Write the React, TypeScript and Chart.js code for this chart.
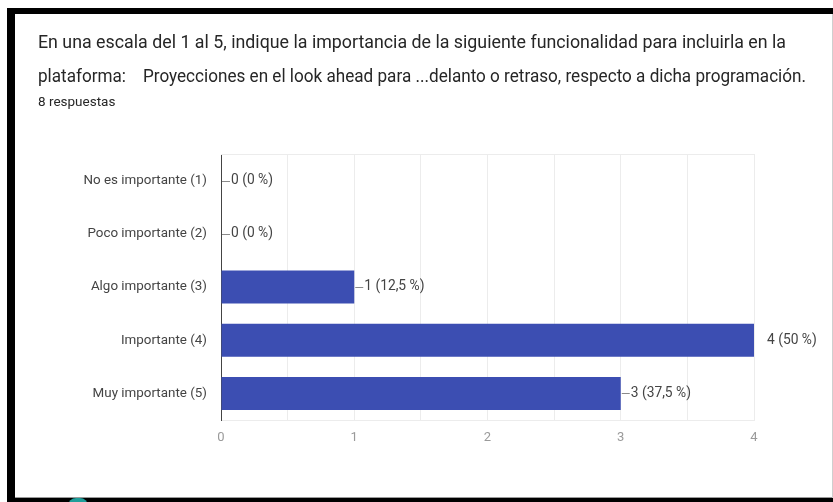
import React, { useEffect, useRef } from "react";
import { Chart, registerables } from "chart.js";

Chart.register(...registerables);

const categories = [
  "No es importante (1)",
  "Poco importante (2)",
  "Algo importante (3)",
  "Importante (4)",
  "Muy importante (5)",
];
const counts = [0, 0, 1, 4, 3];
const percentLabels = ["0 %", "0 %", "12,5 %", "50 %", "37,5 %"];
const xTickValues = [0, 1, 2, 3, 4];
const titleLines = [
  "En una escala del 1 al 5, indique la importancia de la siguiente funcionalidad para incluirla en la",
  "plataforma:    Proyecciones en el look ahead para ...delanto o retraso, respecto a dicha programación.",
];
const titleLineWidths = [748, 768];
const subtitle = "8 respuestas";

const FONT = "Roboto, 'Noto Sans', sans-serif";

function measure(text: string, font: string): number {
  const c = document.createElement("canvas").getContext("2d");
  if (!c) return 0;
  c.font = font;
  return c.measureText(text).width;
}

const annotationPlugin = {
  id: "barAnnotations",
  afterDatasetsDraw(chart: any) {
    const ctx = chart.ctx;
    const meta = chart.getDatasetMeta(0);
    const max = Math.max(...counts);
    ctx.save();
    ctx.font = `13.8px ${FONT}`;
    ctx.textBaseline = "middle";
    ctx.textAlign = "left";
    meta.data.forEach((el: any, i: number) => {
      const x = el.x;
      const y = el.y;
      const label = `${counts[i]} (${percentLabels[i]})`;
      ctx.fillStyle = "#444";
      if (counts[i] < max) {
        ctx.strokeStyle = "#8a8a8a";
        ctx.lineWidth = 1;
        ctx.beginPath();
        ctx.moveTo(x + 1, Math.round(y) + 0.5);
        ctx.lineTo(x + 9, Math.round(y) + 0.5);
        ctx.stroke();
        ctx.fillText(label, x + 10, y);
      } else {
        ctx.fillText(label, x + 13, y);
      }
    });
    ctx.restore();
  },
  beforeDatasetsDraw(chart: any) {
    const { ctx, chartArea } = chart;
    ctx.save();
    ctx.strokeStyle = "#ececec";
    ctx.lineWidth = 1;
    ctx.beginPath();
    ctx.moveTo(chartArea.left, chartArea.top + 0.5);
    ctx.lineTo(chartArea.right, chartArea.top + 0.5);
    ctx.stroke();
    ctx.restore();
  },
};

export default function App() {
  const canvasRef = useRef<HTMLCanvasElement | null>(null);

  useEffect(() => {
    if (!canvasRef.current) return;
    const chart = new Chart(canvasRef.current, {
      type: "bar",
      data: {
        labels: categories,
        datasets: [
          {
            data: counts,
            backgroundColor: "#3c4eb2",
            borderWidth: 0,
            barPercentage: 0.62,
            categoryPercentage: 1,
          },
        ],
      },
      options: {
        indexAxis: "y",
        animation: false,
        responsive: false,
        maintainAspectRatio: false,
        layout: { padding: { left: 0, top: 154, right: 79, bottom: 42 } },
        plugins: {
          legend: { display: false },
          tooltip: { enabled: false },
          title: { display: false },
        },
        scales: {
          x: {
            min: 0,
            max: 4,
            afterBuildTicks: (scale: any) => {
              const t: any[] = [];
              xTickValues.forEach((v, i) => {
                t.push({ value: v });
                if (i < xTickValues.length - 1) t.push({ value: v + 0.5 });
              });
              scale.ticks = t;
            },
            afterFit: (scale: any) => {
              scale.height = 40;
            },
            ticks: {
              autoSkip: false,
              maxRotation: 0,
              padding: 10,
              color: "#9a9a9a",
              font: { family: FONT, size: 13 },
              callback: (v: any) => (Number.isInteger(Number(v)) ? String(v) : ""),
            },
            grid: { color: "#ececec", drawTicks: false },
            border: { color: "#ececec" },
          },
          y: {
            afterFit: (scale: any) => {
              scale.width = 221;
            },
            ticks: {
              padding: 14,
              color: "#444",
              font: { family: FONT, size: 13.4 },
            },
            grid: { display: false, drawTicks: false },
            border: { color: "#444", width: 1 },
          },
        },
      },
      plugins: [annotationPlugin],
    } as any);
    return () => chart.destroy();
  }, []);

  const titleFont = `18px ${FONT}`;

  return (
    <div
      style={{
        position: "absolute",
        left: 0,
        top: 0,
        width: 833,
        height: 502,
        background: "#fff",
        overflow: "hidden",
      }}
    >
      <canvas
        ref={canvasRef}
        width={833}
        height={502}
        style={{ position: "absolute", left: 0, top: 0, width: 833, height: 502 }}
      />
      <div style={{ position: "absolute", left: 7, top: 8, width: 826, height: 6, background: "#000" }} />
      <div style={{ position: "absolute", left: 7, top: 8, width: 8, height: 494, background: "#000" }} />
      <div style={{ position: "absolute", left: 7, top: 498, width: 826, height: 4, background: "#000" }} />
      <div style={{ position: "absolute", left: 15, top: 497, width: 818, height: 1, background: "#9a9a9a" }} />
      <div style={{ position: "absolute", left: 832, top: 14, width: 1, height: 484, background: "#cfcfcf" }} />
      <div
        style={{
          position: "absolute",
          left: 68,
          top: 498,
          width: 20,
          height: 8,
          borderRadius: "10px 10px 0 0",
          background: "#1f9e9a",
        }}
      />
      <div
        style={{
          position: "absolute",
          left: 38,
          top: 25,
          fontFamily: FONT,
          fontSize: 18,
          lineHeight: "34px",
          color: "#262626",
          whiteSpace: "pre",
        }}
      >
        {titleLines.map((l, i) => {
          const w = measure(l, titleFont);
          const k = w > 0 ? titleLineWidths[i] / w : 1;
          return (
            <div key={i} style={{ height: 34 }}>
              <span
                style={{
                  display: "inline-block",
                  transform: `scaleX(${k})`,
                  transformOrigin: "left center",
                }}
              >
                {l}
              </span>
            </div>
          );
        })}
      </div>
      <div
        style={{
          position: "absolute",
          left: 38,
          top: 93,
          fontFamily: FONT,
          fontSize: 13.5,
          lineHeight: "16px",
          color: "#262626",
          whiteSpace: "pre",
        }}
      >
        {subtitle}
      </div>
    </div>
  );
}
